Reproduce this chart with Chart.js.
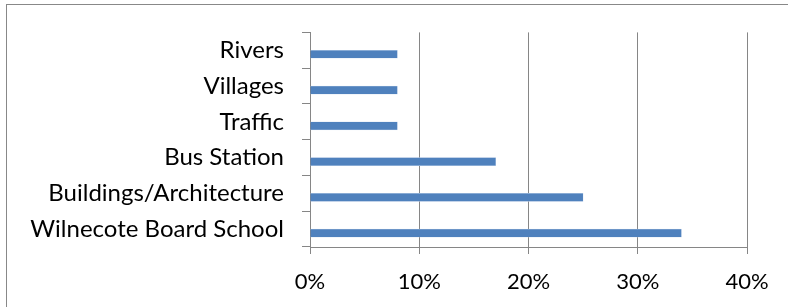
<!DOCTYPE html>
<html>
<head>
<meta charset="utf-8">
<script src="https://cdn.jsdelivr.net/npm/chart.js@4/dist/chart.umd.min.js"></script>
<style>
    html, body { margin: 0; padding: 0; background: #fff; }
    #wrap { position: relative; width: 788px; height: 307px; overflow: hidden; }
    #marco { position: absolute; left: 6px; top: 4px; width: 900px; height: 400px; border: 1px solid #888; box-sizing: border-box; }
    canvas { position: absolute; left: 0; top: 0; }
</style>
</head>
<body>
<div id="wrap">
    <div id="marco"></div>
    <canvas id="chartTemas" width="788" height="307"></canvas>
</div>
<script>
const categorias = ["Rivers", "Villages", "Traffic", "Bus Station", "Buildings/Architecture", "Wilnecote Board School"];
const valores = [0.08, 0.08, 0.08, 0.17, 0.25, 0.34];
const vacios = [null, null, null, null, null, null];
const ticksX = [0, 0.1, 0.2, 0.3, 0.4];

const fuenteY = { family: "Lato, 'Open Sans', sans-serif", size: 24 };
const fuenteX = { family: "Lato, 'Open Sans', sans-serif", size: 22 };
const gris = "#868686";

const ctx = document.getElementById("chartTemas").getContext("2d");

new Chart(ctx, {
    type: "bar",
    data: {
        labels: categorias,
        datasets: [
            { label: "", data: vacios, backgroundColor: "#4F81BD" },
            {
                label: "Temas",
                data: valores,
                backgroundColor: "#4F81BD",
                borderColor: "#C5D5EA",
                borderWidth: 0.5,
                barThickness: 8
            }
        ]
    },
    options: {
        indexAxis: "y",
        responsive: false,
        animation: false,
        categoryPercentage: 0.84,
        layout: { padding: { top: 32, right: 41, left: 0, bottom: 0 } },
        plugins: { legend: { display: false }, tooltip: { enabled: false } },
        scales: {
            x: {
                min: 0,
                max: 0.4,
                afterBuildTicks: s => { s.ticks = ticksX.map(v => ({ value: v })); },
                afterFit: s => { s.height = 60; },
                ticks: {
                    color: "#000",
                    font: fuenteX,
                    padding: 15,
                    callback: v => Math.round(v * 100) + "%"
                },
                grid: { color: gris, tickLength: 7, lineWidth: 1 },
                border: { color: gris, width: 1 }
            },
            y: {
                afterFit: s => { s.width = 310; },
                ticks: { color: "#000", font: fuenteY, padding: 18 },
                grid: { color: gris, drawOnChartArea: false, tickLength: 8, offset: true },
                border: { color: gris, width: 1 }
            }
        }
    }
});
</script>
</body>
</html>
